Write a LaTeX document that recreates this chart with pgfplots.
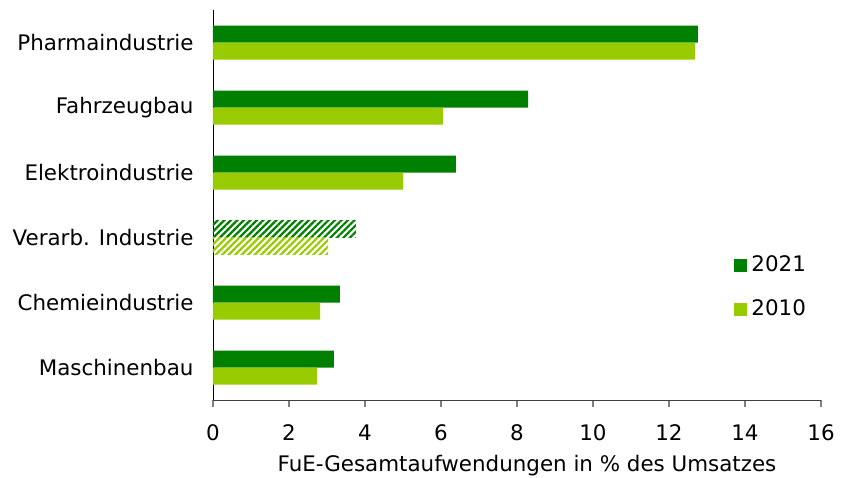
\documentclass[border=0pt]{standalone}
\usepackage{fontspec}
\setmainfont{DejaVu Sans}
\usepackage{pgfplots}
\pgfplotsset{compat=1.18}
\usetikzlibrary{patterns.meta}
\definecolor{dgreen}{HTML}{008000}
\definecolor{lgreen}{HTML}{99CC00}

\begin{document}
\fontsize{10.7}{12.8}\selectfont
\begin{tikzpicture}
\begin{axis}[
    at={(0,0)}, anchor=south west,
    scale only axis,
    width=304pt, height=195pt,
    xbar, bar width=8.5pt,
    xmin=0, xmax=16, ymin=-0.5, ymax=5.5,
    xtick={0,2,...,16},
    ytick={0,...,5},
    yticklabels={Maschinenbau, Chemieindustrie, Verarb. Industrie,
                 Elektroindustrie, Fahrzeugbau, Pharmaindustrie},
    axis x line*=bottom, axis y line*=left,
    x axis line style={draw=black!75, -},
    y axis line style={draw=black, -},
    xtick style={draw=gray, thick},
    tick align=outside,
    major tick length=3.5pt,
    ytick style={draw=none},
    yticklabel style={xshift=-2.5pt},
    xticklabel style={yshift=-5pt},
    /pgf/number format/assume math mode=true,
    ticklabel style={font=\fontsize{10.7}{12.8}\selectfont},
    xlabel={FuE-Gesamtaufwendungen in \% des Umsatzes},
    xlabel style={font=\fontsize{10.7}{12.8}\selectfont, yshift=0pt, xshift=5pt},
    legend style={draw=none, fill=none, at={(0.857,0.289)}, anchor=west,
                  inner sep=0pt, row sep=8.5pt, font=\fontsize{10.7}{12.8}\selectfont},
    legend cell align=left,
    legend image code/.code={\fill[#1] (0pt,-3.25pt) rectangle (6.5pt,3.25pt);},
]
% 2021
\addplot[fill=dgreen, draw=none, bar shift=4.25pt]
    coordinates {(12.76,5) (8.29,4) (6.39,3) (3.34,1) (3.18,0)};
% 2010
\addplot[fill=lgreen, draw=none, bar shift=-4.25pt]
    coordinates {(12.68,5) (6.05,4) (5.00,3) (2.82,1) (2.74,0)};
% verarbeitende Industrie, schraffiert
\addplot[forget plot, draw=none, bar shift=4.25pt, pattern color=dgreen,
    pattern={Lines[angle=45, distance=2.3pt, line width=1.1pt]}]
    coordinates {(3.76,2)};
\addplot[forget plot, draw=none, bar shift=-4.25pt, pattern color=lgreen,
    pattern={Lines[angle=45, distance=2.3pt, line width=1.1pt]}]
    coordinates {(3.03,2)};
\legend{2021, 2010}
\end{axis}
\pgfresetboundingbox
\path[use as bounding box] (-106.5pt,-38.5pt) rectangle (316pt,200pt);
\end{tikzpicture}
\end{document}
